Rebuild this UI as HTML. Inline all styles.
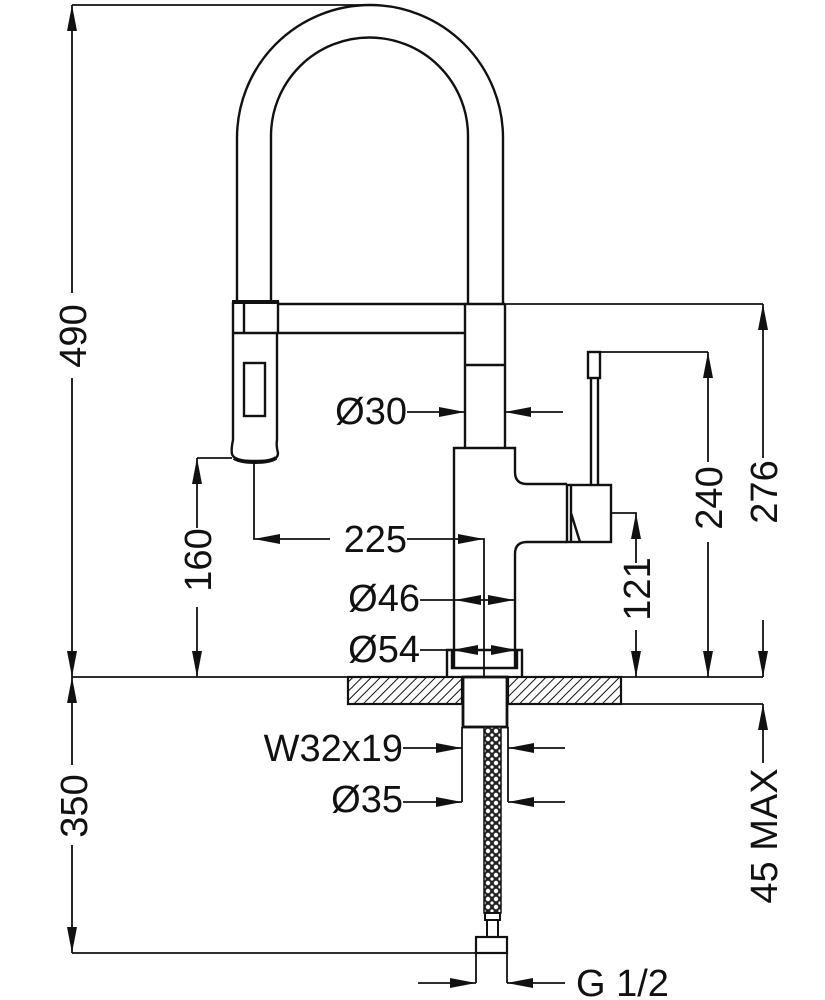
<!DOCTYPE html>
<html><head><meta charset="utf-8"><style>
html,body{margin:0;padding:0;background:#fff;}
svg{display:block;}
text{font-family:"Liberation Sans",Arial,sans-serif;font-size:38px;fill:#111;}
</style></head><body>
<svg width="825" height="1000" viewBox="0 0 825 1000" xmlns="http://www.w3.org/2000/svg">
<defs>
<pattern id="hatch" width="6.5" height="6.5" patternUnits="userSpaceOnUse" patternTransform="rotate(45)">
<line x1="0" y1="0" x2="0" y2="6.5" stroke="#111" stroke-width="2"/>
</pattern>
<pattern id="braid" width="8" height="8" patternUnits="userSpaceOnUse" x="484" y="727">
<rect width="8" height="8" fill="#222"/>
<circle cx="4" cy="4" r="2.2" fill="#fff"/>
<circle cx="0" cy="0" r="1.6" fill="#fff"/>
<circle cx="8" cy="0" r="1.6" fill="#fff"/>
<circle cx="0" cy="8" r="1.6" fill="#fff"/>
<circle cx="8" cy="8" r="1.6" fill="#fff"/>
</pattern>
</defs>

<g fill="none" stroke="#111" stroke-width="1.8">
<path d="M72 5 H372"/>
<path d="M72 5 V293 M72 378 V677"/>
<path d="M72 677 V765 M72 845 V953"/>
<path d="M72 677 H763"/>
<path d="M72 953 H476"/>
<path d="M197 458 H232 M197 458 V528 M197 607 V677"/>
<path d="M254 462 V539 H330 M407 539 H484 V677"/>
<path d="M407 412 H465 M505 412 H563"/>
<path d="M420 600 H515"/>
<path d="M420 650 H447"/>
<path d="M601 352 H708 M708 352 V462 M708 542 V677"/>
<path d="M505 304 H763 M763 304 V458 M763 620 V677"/>
<path d="M611 513 H636 V563 M636 630 V677"/>
<path d="M621 704 H763 M763 704 V763"/>
<path d="M462 727 V802 M508 727 V802"/>
<path d="M403 748 H462 M508 748 H565 M403 802 H462 M508 802 H565"/>
<path d="M476 953 V983 M507 953 V983 M418 983 H476 M507 983 H565"/>
</g>

<g fill="none" stroke="#111" stroke-width="2.4">
<path d="M237 303 V138 A133 133 0 0 1 503 138 V304"/>
<path d="M271 303 V136 A98.5 98.5 0 0 1 468 136 V304"/>
<path d="M233 302 H278 V333 M233 302 V333 M244 303 V333"/>
<path d="M278 304 H505 M233 333 H465"/>
<path d="M233 333 V440 Q231 449 232 454 Q234 460 245 461 H267 Q278 460 278 453 Q276 446 277 440 V333"/>
<rect x="244" y="363" width="21" height="53"/>
<path d="M465 304 V448 M505 304 V448 M465 365 H505"/>
<path d="M454 668 V448 H515 V472 Q515 484 527 484 H567 M567 542 H527 Q515 542 515 554 V668"/>
<rect x="567" y="485" width="44" height="57"/>
<path d="M571 485 V542 M571 513 L580 542"/>
<rect x="588" y="352" width="12" height="26"/>
<path d="M591 378 V485 M598 378 V485"/>
<path d="M447 677 V650 H522 V677 M452 650 V668 H517 V650"/>
</g>
<path d="M232 302 H279" stroke="#111" stroke-width="4" fill="none"/>
<path d="M234 458 Q240 462 255 462 Q270 462 276 458" stroke="#111" stroke-width="4" fill="none"/>

<rect x="348" y="677" width="114" height="27" fill="url(#hatch)" stroke="#111" stroke-width="2.2"/>
<rect x="508" y="677" width="113" height="27" fill="url(#hatch)" stroke="#111" stroke-width="2.2"/>
<rect x="463" y="677" width="44" height="50" fill="#fff" stroke="#111" stroke-width="2.8"/>
<rect x="484" y="727" width="17" height="186" fill="url(#braid)" stroke="#111" stroke-width="1.5"/>
<rect x="485" y="913" width="15" height="7" fill="#fff" stroke="#111" stroke-width="2"/>
<rect x="487" y="920" width="11" height="17" fill="#fff" stroke="#111" stroke-width="2"/>
<rect x="476" y="937" width="31" height="16" fill="#fff" stroke="#111" stroke-width="2.2"/>

<g fill="#111">
<polygon points="72,5 67,31 77,31"/>
<polygon points="72,677 67,651 77,651"/>
<polygon points="72,677 67,703 77,703"/>
<polygon points="72,953 67,927 77,927"/>
<polygon points="197,458 192,484 202,484"/>
<polygon points="197,677 192,651 202,651"/>
<polygon points="254,539 280,534 280,544"/>
<polygon points="484,539 458,534 458,544"/>
<polygon points="465,412 439,407 439,417"/>
<polygon points="505,412 531,407 531,417"/>
<polygon points="455,600 481,595 481,605"/>
<polygon points="514,600 488,595 488,605"/>
<polygon points="452,650 478,645 478,655"/>
<polygon points="517,650 491,645 491,655"/>
<polygon points="708,352 703,378 713,378"/>
<polygon points="708,677 703,651 713,651"/>
<polygon points="763,304 758,330 768,330"/>
<polygon points="763,677 758,651 768,651"/>
<polygon points="636,513 631,539 641,539"/>
<polygon points="636,677 631,651 641,651"/>
<polygon points="763,704 758,730 768,730"/>
<polygon points="462,748 436,743 436,753"/>
<polygon points="508,748 534,743 534,753"/>
<polygon points="462,802 436,797 436,807"/>
<polygon points="508,802 534,797 534,807"/>
<polygon points="476,983 450,978 450,988"/>
<polygon points="507,983 533,978 533,988"/>
</g>

<text x="407" y="424" text-anchor="end">Ø30</text>
<text x="407" y="552" text-anchor="end">225</text>
<text x="420" y="611" text-anchor="end">Ø46</text>
<text x="420" y="662" text-anchor="end">Ø54</text>
<text x="403" y="761" text-anchor="end">W32x19</text>
<text x="403" y="812" text-anchor="end">Ø35</text>
<text x="576" y="996">G 1/2</text>

<text transform="translate(86,336) rotate(-90)" text-anchor="middle">490</text>
<text transform="translate(87,806) rotate(-90)" text-anchor="middle">350</text>
<text transform="translate(211,560) rotate(-90)" text-anchor="middle">160</text>
<text transform="translate(650,589) rotate(-90)" text-anchor="middle">121</text>
<text transform="translate(722,498) rotate(-90)" text-anchor="middle">240</text>
<text transform="translate(777,492) rotate(-90)" text-anchor="middle">276</text>
<text transform="translate(777,836) rotate(-90)" text-anchor="middle">45 MAX</text>
</svg>
</body></html>
